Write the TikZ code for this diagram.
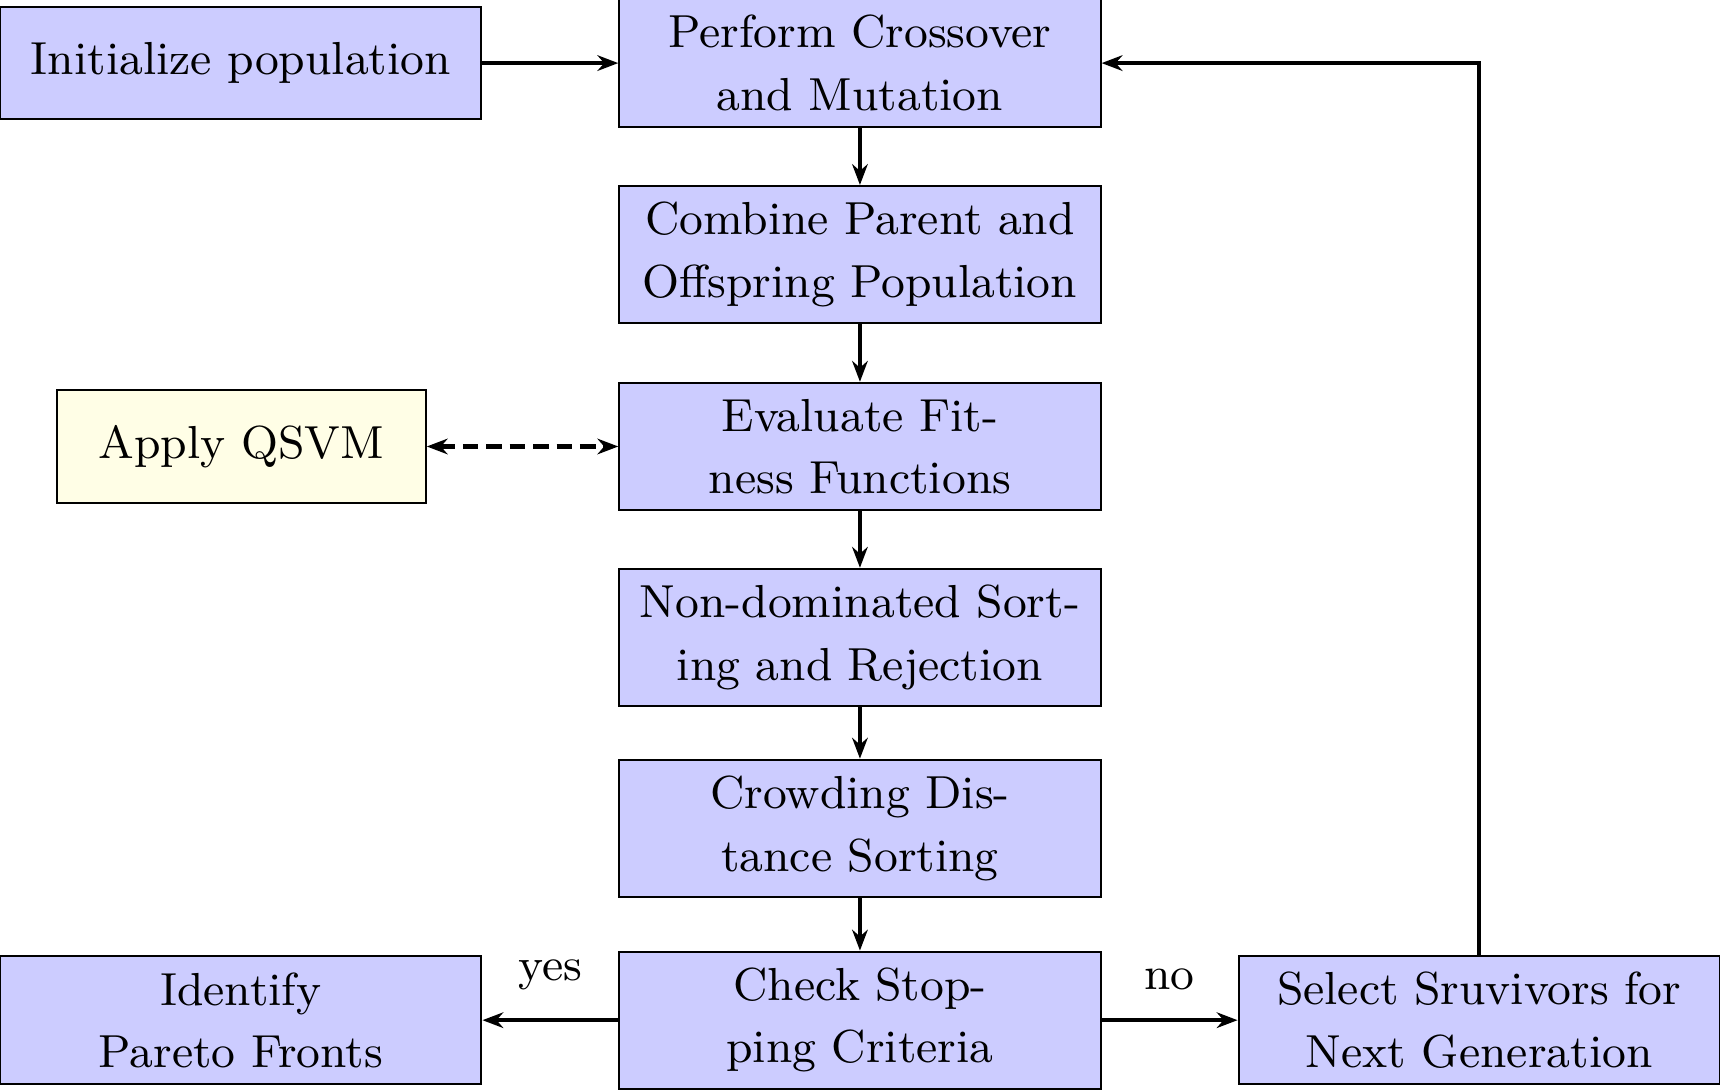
\documentclass[tikz,border=0pt]{standalone}
\usetikzlibrary{positioning,arrows.meta}
\tikzset{
  stepbox/.style={draw,fill=blue!20,font=\fontsize{8.9}{12}\selectfont,text width=3.05cm,align=center,minimum width=3.25cm,minimum height=0.88cm,inner sep=2pt},
  qbox/.style={draw,fill=yellow!10,font=\fontsize{8.9}{12}\selectfont,minimum width=2.49cm,minimum height=0.76cm},
  flow/.style={thick,-{Stealth[length=4pt]}}
}
\begin{document}
\begin{tikzpicture}
      \useasboundingbox (0,0) rectangle (11.615,7.356);
      %nodes
      \node[stepbox,minimum height=0.756cm] (init) at (1.626,6.93) {Initialize population};
      \node[stepbox,minimum height=0.86cm] (cross) at (5.807,6.93) {Perform Crossover and Mutation};
      \node[stepbox,minimum height=0.926cm] (comb) at (5.807,5.637) {Combine Parent and Offspring Population};
      \node[stepbox,minimum height=0.86cm] (eval) at (5.807,4.341) {Evaluate Fit-ness Functions};
      \node[stepbox,minimum height=0.926cm] (sort) at (5.807,3.052) {Non-dominated Sorting and Rejection};
      \node[stepbox,minimum height=0.926cm] (crowd) at (5.807,1.763) {Crowding Dis-tance Sorting};
      \node[stepbox,minimum height=0.926cm] (check) at (5.807,0.467) {Check Stop-ping Criteria};
      \node[qbox] (qsvm) at (1.63,4.341) {Apply QSVM};
      \node[stepbox,minimum height=0.866cm] (pareto) at (1.626,0.467) {Identify\\Pareto Fronts};
      \node[stepbox,minimum height=0.866cm] (select) at (9.989,0.467) {Select Sruvivors for Next Generation};
      %arrows
      \draw[flow] (init)--(cross);
      \draw[flow] (cross)--(comb); \draw[flow] (comb)--(eval); \draw[flow] (eval)--(sort);
      \draw[flow] (sort)--(crowd); \draw[flow] (crowd)--(check);
      \draw[thick,dash pattern=on 3pt off 1.5pt,{Stealth[length=4pt]}-{Stealth[length=4pt]}] (qsvm)--(eval);
      \draw[flow] (check)--node[above=2pt,font=\fontsize{8.9}{12}\selectfont] {yes} (pareto);
      \draw[flow] (check)--node[above=2pt,font=\fontsize{8.9}{12}\selectfont] {no} (select);
      \draw[flow] (select.north)|-(cross.east);
\end{tikzpicture}
\end{document}
